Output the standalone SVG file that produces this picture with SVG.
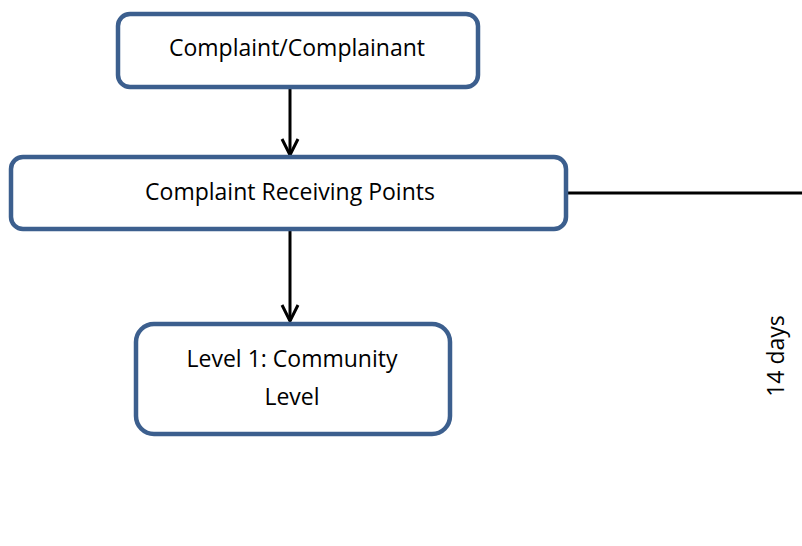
<svg xmlns="http://www.w3.org/2000/svg" width="802" height="546" viewBox="0 0 802 546">
  <defs>
    <style>
      .box { fill: #ffffff; stroke: #3c5f8e; stroke-width: 4.5; }
      .lbl { font-family: "Open Sans", "Liberation Sans", sans-serif; font-size: 23px; fill: #000000; text-anchor: middle; }
      .wire { fill: none; stroke: #000000; stroke-width: 3; }
    </style>
    <marker id="chev" viewBox="0 0 20 20" refX="18" refY="10" markerWidth="20" markerHeight="20" markerUnits="userSpaceOnUse" orient="auto">
      <path d="M2,2 L18,10 L2,18" fill="none" stroke="#000000" stroke-width="3"/>
    </marker>
  </defs>

  <g id="connectors">
    <line class="wire" x1="290" y1="89" x2="290" y2="155" marker-end="url(#chev)"/>
    <line class="wire" x1="290" y1="231" x2="290" y2="321" marker-end="url(#chev)"/>
    <line class="wire" x1="567" y1="193" x2="802" y2="193"/>
  </g>

  <g id="complainant">
    <rect class="box" x="118" y="14" width="360" height="73" rx="12" ry="12"/>
    <text class="lbl" x="297" y="56">Complaint/Complainant</text>
  </g>

  <g id="receiving-points">
    <rect class="box" x="11" y="157" width="555" height="72" rx="12" ry="12"/>
    <text class="lbl" x="290" y="200">Complaint Receiving Points</text>
  </g>

  <g id="level-1">
    <rect class="box" x="136" y="324" width="314" height="110" rx="18" ry="18"/>
    <text class="lbl" x="292" y="367">Level 1: Community</text>
    <text class="lbl" x="292" y="405">Level</text>
  </g>

  <g id="duration">
    <text class="lbl" transform="translate(784,356) rotate(-90)">14 days</text>
  </g>
</svg>
